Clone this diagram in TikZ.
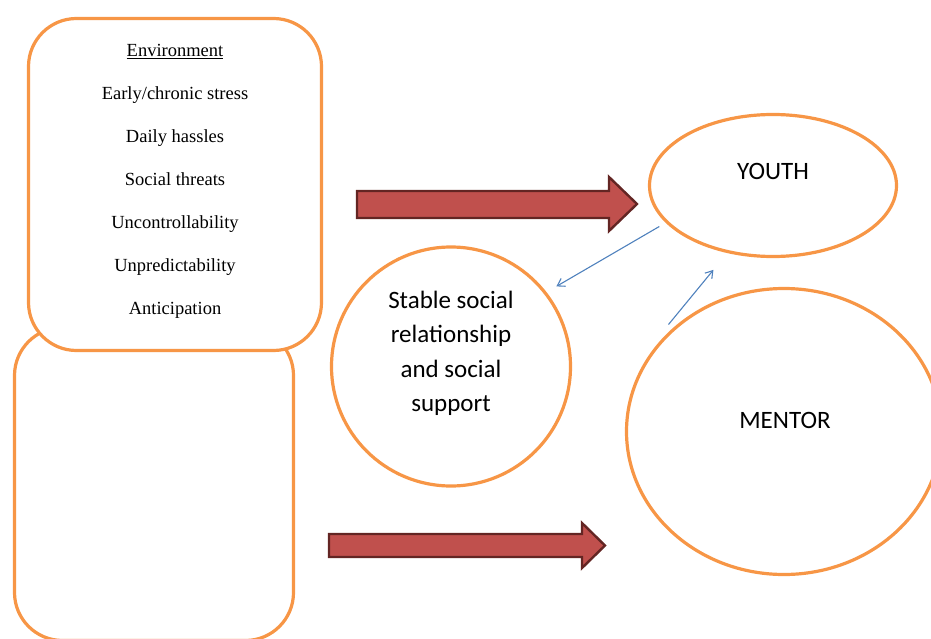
\documentclass[tikz,border=0pt]{standalone}
\usepackage{fontspec}
\setmainfont{Liberation Serif}
\newfontfamily\calibrifont{Carlito}
\usepackage{xcolor}
\usepackage{tikz}
\usetikzlibrary{arrows.meta,shapes.geometric}

\definecolor{boxorange}{HTML}{F79646}
\definecolor{arrowred}{HTML}{C0504D}
\definecolor{arrowdark}{HTML}{632523}
\definecolor{linkblue}{HTML}{4F81BD}

\begin{document}
\begin{tikzpicture}[
    x=1pt, y=-1pt,
    panel/.style={
        % The shape:
        rectangle,
        rounded corners=48pt,
        % The lines and fill
        line width=3.2pt,
        draw=boxorange,
        fill=white,
        inner sep=0pt, outer sep=0pt},
    bubble/.style={
        % The shape:
        ellipse,
        % The lines and fill
        line width=3.2pt,
        draw=boxorange,
        fill=white,
        inner sep=0pt, outer sep=0pt},
    fatarrow/.style={
        line width=2.4pt,
        draw=arrowdark,
        fill=arrowred,
        line join=miter},
    link/.style={
        draw=linkblue,
        line width=1.1pt,
        -{Straight Barb[length=7pt,width=9pt]}},
    listtext/.style={
        align=center,
        % The fonts
        font=\fontsize{18.5}{43}\selectfont},
    bubbletext/.style={
        align=center,
        % The fonts
        font=\calibrifont\fontsize{25}{34.5}\selectfont}
  ]
  \useasboundingbox (0,0) rectangle (931,639);

  % left panels
  \node (lower panel) [panel, minimum width=279pt, minimum height=313pt] at (154,484) {};
  \node (env panel) [panel, minimum width=293pt, minimum height=332pt] at (175,184.5) {};
  \node (env list) [listtext] at (175,181)
    {\underline{Environment}\\Early/chronic stress\\Daily hassles\\Social threats\\Uncontrollability\\Unpredictability\\Anticipation};

  % bubbles
  \node (stable) [bubble, minimum width=239pt, minimum height=239pt] at (451,366.5) {};
  \node (stable text) [bubbletext] at (451,353.5) {Stable social\\relationship\\and social\\support};
  \node (youth) [bubble, minimum width=247pt, minimum height=142pt] at (773,185.5) {};
  \node (youth text) [bubbletext] at (773,171) {YOUTH};
  \node (mentor) [bubble, minimum width=315pt, minimum height=286pt] at (784,431.5) {};
  \node (mentor text) [bubbletext] at (785,420) {MENTOR};

  % block arrows
  \draw [fatarrow] (357,191) -- (609,191) -- (609,177) -- (637,204) -- (609,231) -- (609,218) -- (357,218) -- cycle;
  \draw [fatarrow] (329,534) -- (582,534) -- (582,523) -- (605,545.5) -- (582,568) -- (582,557) -- (329,557) -- cycle;

  % thin links
  \draw [link, shorten <=9pt, shorten >=13pt] (youth.199.5) -- (stable.38.3);
  \draw [link, shorten <=4pt, shorten >=23.5pt] ([xshift=-4.3pt,yshift=5pt]mentor.139.8) -- (youth.236.4);
\end{tikzpicture}
\end{document}
